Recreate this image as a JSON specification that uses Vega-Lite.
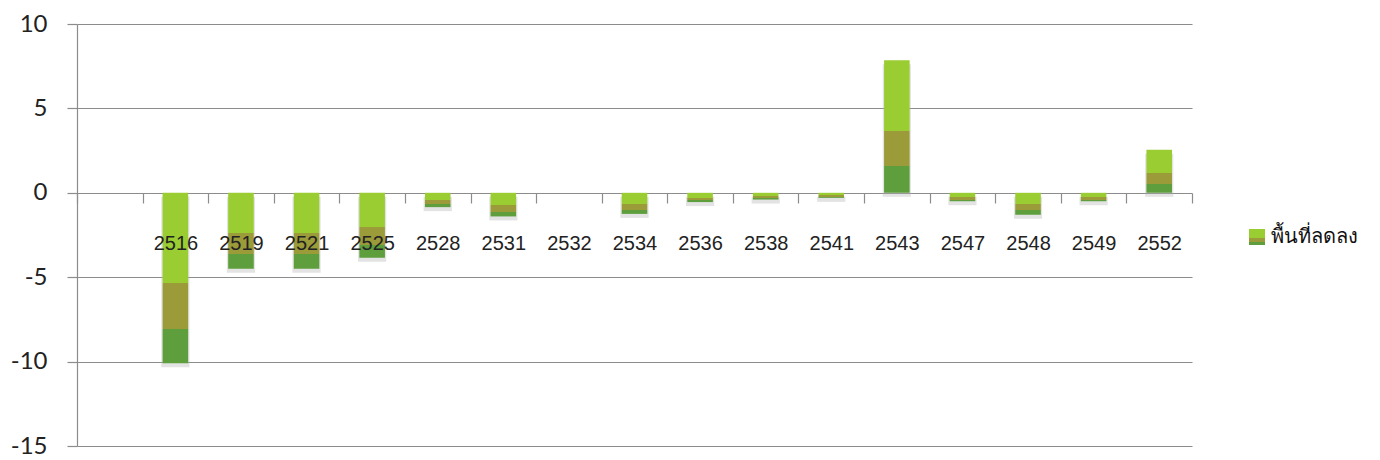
{
  "$schema": "https://vega.github.io/schema/vega-lite/v6.json",
  "autosize": "none",
  "width": 1115,
  "height": 422,
  "padding": {"left": 77, "top": 24, "right": 188, "bottom": 14},
  "background": "white",
  "data": {
    "values": [
      {"year": "2516", "value": -10.1},
      {"year": "2519", "value": -4.5},
      {"year": "2521", "value": -4.5},
      {"year": "2525", "value": -3.85},
      {"year": "2528", "value": -0.85},
      {"year": "2531", "value": -1.4},
      {"year": "2532", "value": 0},
      {"year": "2534", "value": -1.25},
      {"year": "2536", "value": -0.55},
      {"year": "2538", "value": -0.4},
      {"year": "2541", "value": -0.3},
      {"year": "2543", "value": 7.85},
      {"year": "2547", "value": -0.5},
      {"year": "2548", "value": -1.3},
      {"year": "2549", "value": -0.5},
      {"year": "2552", "value": 2.55}
    ]
  },
  "encoding": {
    "x": {
      "field": "year",
      "type": "nominal",
      "sort": null,
      "scale": {
        "domain": [" ", "2516", "2519", "2521", "2525", "2528", "2531", "2532", "2534", "2536", "2538", "2541", "2543", "2547", "2548", "2549", "2552"],
        "paddingInner": 0,
        "paddingOuter": 0
      },
      "axis": {
        "title": null,
        "orient": "bottom",
        "offset": -253,
        "domain": false,
        "tickBand": "extent",
        "tickSize": 10,
        "tickColor": "#8c8c8c",
        "tickWidth": 1.2,
        "labelAngle": 0,
        "labelFont": "Liberation Sans",
        "labelFontSize": 20,
        "labelColor": "#222222",
        "labelPadding": 30,
        "zindex": 1
      }
    },
    "y": {
      "field": "value",
      "type": "quantitative",
      "scale": {"domain": [-15, 10], "nice": false},
      "axis": {
        "title": null,
        "values": [-15, -10, -5, 0, 5, 10],
        "labelExpr": "toString(datum.value)",
        "grid": true,
        "gridColor": "#8c8c8c",
        "gridWidth": 1.2,
        "domainColor": "#8c8c8c",
        "domainWidth": 1.2,
        "tickColor": "#8c8c8c",
        "tickWidth": 1.2,
        "tickSize": 10,
        "labelFont": "Lato",
        "labelFontSize": 24,
        "labelColor": "#222222",
        "labelPadding": 20,
        "zindex": 0
      }
    }
  },
  "layer": [
    {
      "mark": {
        "type": "bar",
        "color": "#b0b0b0",
        "opacity": 0.35,
        "yOffset": 4,
        "width": {"band": 0.43}
      }
    },
    {
      "mark": {
        "type": "bar",
        "width": {"band": 0.39},
        "color": {
          "gradient": "linear",
          "x1": 0, "y1": 0, "x2": 0, "y2": 1,
          "stops": [
            {"offset": 0, "color": "#9acd32"},
            {"offset": 0.53, "color": "#9acd32"},
            {"offset": 0.53, "color": "#9c9b3a"},
            {"offset": 0.8, "color": "#9c9b3a"},
            {"offset": 0.8, "color": "#5e9e3c"},
            {"offset": 1, "color": "#5e9e3c"}
          ]
        }
      }
    },
    {
      "data": {"values": [{"series": "พื้นที่ลดลง"}]},
      "mark": {
        "type": "point",
        "filled": true,
        "opacity": 0,
        "color": {
          "gradient": "linear",
          "x1": 0, "y1": 0, "x2": 0, "y2": 1,
          "stops": [
            {"offset": 0, "color": "#9acd32"},
            {"offset": 0.55, "color": "#9acd32"},
            {"offset": 0.55, "color": "#9c9b3a"},
            {"offset": 0.8, "color": "#9c9b3a"},
            {"offset": 0.8, "color": "#5e9e3c"},
            {"offset": 1, "color": "#5e9e3c"}
          ]
        }
      },
      "encoding": {
        "x": {"value": 0},
        "y": {"value": 0},
        "shape": {
          "field": "series",
          "type": "nominal",
          "scale": {"range": ["square"]},
          "legend": {
            "title": null,
            "orient": "none",
            "legendX": 1170,
            "legendY": 203,
            "symbolSize": 256,
            "symbolOpacity": 1,
            "symbolStrokeWidth": 0,
            "labelFont": "Noto Sans",
            "labelFontSize": 20,
            "labelColor": "#111111",
            "labelOffset": 4,
            "labelLimit": 300
          }
        }
      }
    }
  ],
  "config": {"view": {"stroke": null}}
}
